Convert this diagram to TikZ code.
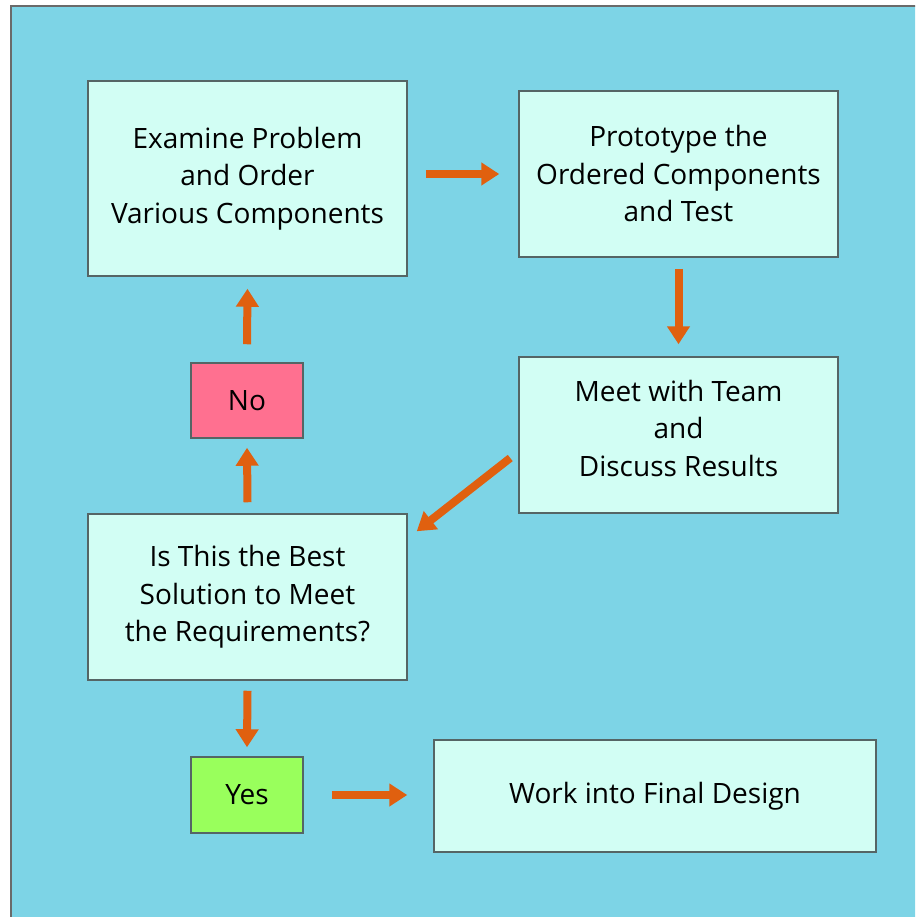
\documentclass[tikz,border=0pt]{standalone}
\usepackage{fontspec}
\setmainfont{Open Sans}
\usetikzlibrary{arrows.meta,calc}
\definecolor{bgblue}{HTML}{7DD4E6}
\definecolor{boxfill}{HTML}{D2FEF4}
\definecolor{boxline}{HTML}{556565}
\definecolor{noPink}{HTML}{FF7090}
\definecolor{yesGreen}{HTML}{99FF5C}
\definecolor{arrOrange}{HTML}{E0600F}
\definecolor{frameGray}{HTML}{6A6A6A}
\tikzset{
  boxfont/.style={font=\fontsize{28}{37.5}\selectfont},
  stepbox/.style={draw=boxline, line width=1.5pt, fill=boxfill, inner sep=0pt, align=center, boxfont},
  blk/.style={draw=arrOrange, line width=8pt, -{Triangle[length=18pt,width=22pt]}},
}
\begin{document}
\begin{tikzpicture}[x=1pt,y=-1pt]
\useasboundingbox (0,0) rectangle (915,917);
\fill[white] (0,0) rectangle (915,917);
\begin{scope}
\clip (0,0) rectangle (915,917);
\draw[frameGray, line width=2pt, fill=bgblue] (11,6) rectangle (930,930);
\end{scope}
\node[stepbox, minimum width=319pt, minimum height=195pt] (A) at (247.5,178.5) {Examine Problem\\and Order\\Various Components};
\node[stepbox, minimum width=319pt, minimum height=166pt] (B) at (678.5,174) {Prototype the\\Ordered Components\\and Test};
\node[stepbox, minimum width=319pt, minimum height=156pt] (C) at (678.5,435) {};
\node[align=center, inner sep=0pt, boxfont] (Ct) at ([yshift=7pt]C.center) {Meet with Team\\and\\Discuss Results};
\node[stepbox, minimum width=319pt, minimum height=166pt] (D) at (247.5,597) {Is This the Best\\Solution to Meet\\the Requirements?};
\node[stepbox, fill=noPink, minimum width=112pt, minimum height=75pt] (No) at (247,400.5) {No};
\node[stepbox, fill=yesGreen, minimum width=112pt, minimum height=76pt] (Yes) at (247,795) {Yes};
\node[stepbox, minimum width=442pt, minimum height=112pt] (F) at (655,796) {Work into Final Design};
% connectors
\draw[blk] ([xshift=18pt]A.east |- B.west) -- ([xshift=-19pt]B.west);
\draw[blk] ([yshift=-11pt]B.south) -- ([yshift=12pt]C.north);
\draw[blk] ($(C.west)+(-8,23)$) -- ($(D.north east)+(9,18)$);
\draw[blk] ([yshift=11pt]D.north) -- ([yshift=-9pt]No.south);
\draw[blk] ([yshift=18pt]No.north) -- ([yshift=-12pt]A.south);
\draw[blk] ([yshift=-10pt]D.south) -- ([yshift=9pt]Yes.north);
\draw[blk] ([xshift=28pt]Yes.east) -- ([xshift=-26pt]F.west |- Yes.east);
\end{tikzpicture}
\end{document}
